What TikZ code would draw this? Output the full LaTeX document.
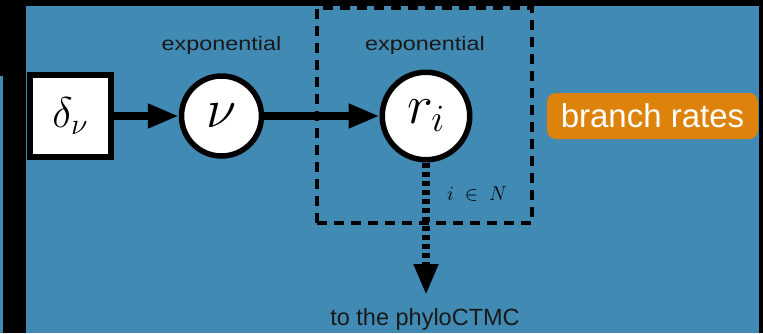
\RequirePackage{fix-cm}
\documentclass[tikz,border=0pt]{standalone}
\usepackage{fontspec}
\setmainfont{Liberation Sans}
\newfontfamily\widesans[FakeStretch=1.2]{Liberation Sans}
\usetikzlibrary{arrows.meta}
\definecolor{bgblue}{RGB}{64,138,180}
\definecolor{tagorange}{RGB}{221,131,12}
\begin{document}
\begin{tikzpicture}[x=1pt,y=-1pt,
  constbox/.style={draw, line width=6pt, fill=white, minimum size=81.5pt, inner sep=0pt,
    font=\fontsize{43}{48}\selectfont},
  stoch/.style={circle, draw, line width=5.5pt, fill=white, inner sep=0pt,
    font=\fontsize{55}{60}\selectfont},
  conn/.style={line width=7.5pt, -{Triangle[length=31pt,width=23pt]}},
  plate/.style={draw, line width=4.5pt, dash pattern=on 10pt off 7pt, minimum width=215pt, minimum height=215pt, inner sep=0pt},
  distlabel/.style={anchor=base, inner sep=0pt, text=black!90, font=\widesans\fontsize{19.5}{22}\selectfont},
  tag/.style={fill=tagorange, rounded corners=9pt, text=white, minimum width=211pt, minimum height=46pt, inner sep=0pt,
    font=\fontsize{33}{38}\selectfont},
  note/.style={anchor=base, inner sep=0pt, text=black!90, font=\fontsize{23.5}{26}\selectfont}
]
\useasboundingbox (0,0) rectangle (763,333);
\fill[bgblue] (0,0) rectangle (763,333);
\node[plate] (plate) at (424.5,115.5) {};
\fill[black] (0,0) rectangle (763,6);
\fill[black] (0,0) rectangle (26,76);
\fill[black] (3,76) rectangle (26,333);
\fill[black] (759,0) rectangle (763,333);

\node[constbox] (delta) at (70.3,116) {$\delta_\nu$};
\node[stoch, minimum size=80pt] (nu) at (221.5,116) {$\nu$};
\node[stoch, minimum size=87.5pt] (ri) at (426,116) {$r_i$};

\node[distlabel] (e1) at (221.5,50) {exponential};
\node[distlabel] (e2) at (425,50) {exponential};
\node[inner sep=0pt, font=\fontsize{20}{22}\selectfont] (idx) at (477,194) {$i\;\in\;N$};
\node[tag] (br) at (652.5,116) {branch rates};
\node[note] (ctmc) at (425,325) {to the phyloCTMC};
\coordinate (ctmcin) at (426,295);

\draw[conn] (delta) -- (nu);
\draw[conn] (nu) -- (ri);
\draw[conn, dash pattern=on 5pt off 4pt] (ri) -- (ctmcin);
\end{tikzpicture}
\end{document}
